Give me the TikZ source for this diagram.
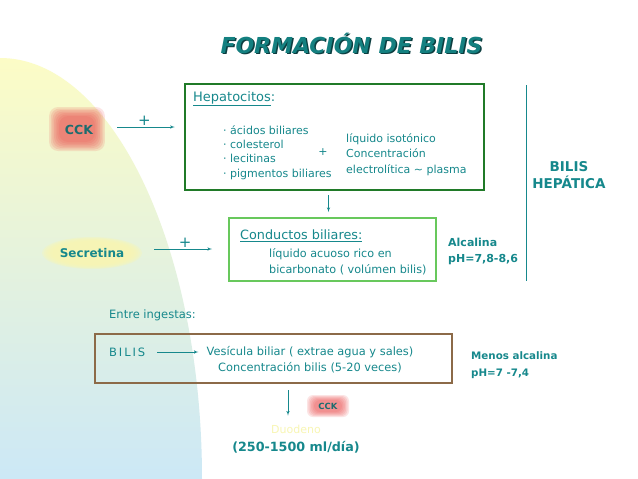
\documentclass[tikz,border=0pt]{standalone}
\usepackage{fontspec}
\setmainfont{DejaVu Sans}
\usetikzlibrary{shapes, arrows}
\usetikzlibrary{positioning}
\usepackage{xcolor}
\definecolor{verdeazul}{RGB}{22,136,140}
\definecolor{tituloosc}{RGB}{12,62,64}
\definecolor{titulocol}{RGB}{20,128,128}
\definecolor{cckcol}{RGB}{28,108,110}
\definecolor{verdeosc}{RGB}{32,122,40}
\definecolor{verdecla}{RGB}{104,200,92}
\definecolor{marron}{RGB}{140,106,72}
\definecolor{fondoarriba}{RGB}{252,252,198}
\definecolor{fondomedio}{RGB}{228,243,216}
\definecolor{fondoabajo}{RGB}{204,232,246}
\definecolor{rojoglow}{RGB}{236,80,80}
\definecolor{amarilloglow}{RGB}{248,246,180}

\begin{document}
\begin{tikzpicture}[x=1pt, y=-1pt, text=verdeazul,
    font=\fontsize{11}{14.3}\selectfont,
    txt/.style={inner sep=1pt, align=left},
    negrita/.style={inner sep=1pt, align=left, font=\fontsize{11}{15.5}\selectfont\bfseries},
    flecha/.style={-latex', verdeazul, semithick},
    caja/.style={draw, minimum width=#1},
    mas/.style={font=\fontsize{15}{15}\selectfont, inner sep=1pt}]

        \useasboundingbox (0,0) rectangle (638,479);
        \fill[white] (0,0) rectangle (638,479);

        % fondo
        \shade[top color=fondoarriba, middle color=fondomedio, bottom color=fondoabajo]
            (0,479) -- (0,58) .. controls (112,58) and (202,247) .. (202,479) -- cycle;

        % titulo
        \node[text=tituloosc, font=\fontsize{22}{22}\selectfont\bfseries\itshape] at (353,44.5) {FORMACIÓN DE BILIS};
        \node[text=titulocol, font=\fontsize{22}{22}\selectfont\bfseries\itshape] (titulo) at (351.5,43) {FORMACIÓN DE BILIS};

        % hormonas
        \foreach \i in {0,...,6}
            \node[fill=rojoglow, fill opacity=0.15, rounded corners=9, minimum width=36+3.3*\i, minimum height=26+3*\i] at (77,129) {};
        \foreach \i in {0,...,5}
            \node[fill=amarilloglow, fill opacity=0.35, ellipse, minimum width=80+4*\i, minimum height=24+1.6*\i] at (92,253) {};
        \foreach \i in {0,...,5}
            \node[fill=rojoglow, fill opacity=0.15, rounded corners=6, minimum width=28+2.8*\i, minimum height=12+2*\i] at (328,406) {};

        \node[negrita, text=cckcol, font=\fontsize{12.5}{14}\selectfont\bfseries, minimum width=52] (cck) at (79,130) {CCK};
        \node[negrita, font=\fontsize{12}{14}\selectfont\bfseries, minimum width=100] (secretina) at (92,253) {Secretina};
        \node[negrita, text=cckcol, font=\fontsize{8.5}{10}\selectfont\bfseries] (cckdos) at (328,406) {CCK};

        % cajas
        \node[caja=299, draw=verdeosc, line width=2.5pt, minimum height=106] (hepato) at (334.5,137) {};
        \node[caja=207, draw=verdecla, line width=2pt, minimum height=63] (conductos) at (332.5,249.5) {};
        \node[caja=357, draw=marron, line width=2pt, minimum height=49] (vesibox) at (273.5,358.5) {};

        \node[txt, anchor=west, font=\fontsize{13}{14}\selectfont] (hepatitulo) at (192,99) {\underline{Hepatocitos}:};
        \node[txt, anchor=west] (lista) at (222,152.5) {· ácidos biliares\\ · colesterol\\ · lecitinas\\ · pigmentos biliares};
        \node[mas, font=\fontsize{11}{11}\selectfont] (masdos) at (323,152) {+};
        \node[txt, anchor=west, font=\fontsize{11}{15.5}\selectfont] (isotonico) at (345,154.5) {líquido isotónico\\ Concentración\\ electrolítica \textasciitilde{} plasma};

        \node[txt, anchor=west, font=\fontsize{12.8}{14}\selectfont] (condtitulo) at (239,236) {\underline{Conductos biliares:}};
        \node[txt, anchor=west, font=\fontsize{11.2}{16}\selectfont] (acuoso) at (268,262) {líquido acuoso rico en\\ bicarbonato ( volúmen bilis)};

        \node[negrita, anchor=west, font=\fontsize{11}{15.5}\selectfont\bfseries] (alcalina) at (447,251.5) {Alcalina\\ pH=7,8-8,6};
        \node[negrita, align=center, font=\fontsize{13.5}{16.5}\selectfont\bfseries] (hepatica) at (569,175) {BILIS\\ HEPÁTICA};
        \draw[verdeazul, thick] (526,85) -- (526,281);

        \node[txt, anchor=west, font=\fontsize{11.5}{14}\selectfont] (ingestas) at (108,315) {Entre ingestas:};
        \node[txt, anchor=west, font=\fontsize{11.5}{14}\selectfont] (bilis) at (108,352) {B\,I\,L\,I\,S};
        \node[txt, align=center, font=\fontsize{11.4}{15.5}\selectfont] (vesicula) at (310,359.5) {Vesícula biliar ( extrae agua y sales)\\ Concentración bilis (5-20 veces)};
        \node[negrita, anchor=west, font=\fontsize{10.3}{17}\selectfont\bfseries] (menos) at (470,365.5) {Menos alcalina\\ pH=7 -7,4};

        \node[txt, text=amarilloglow, font=\fontsize{11}{13}\selectfont] (duodeno) at (296,429) {Duodeno};
        \node[negrita, font=\fontsize{12.7}{14}\selectfont\bfseries] (volumen) at (296,447) {(250-1500 ml/día)};

        % flechas
        \draw[flecha, shorten <=12, shorten >=9] ([yshift=3]cck.east) -- ([yshift=3]cck.east -| hepato.west) node[mas, midway, above] {+};
        \draw[flecha, shorten <=12, shorten >=16] ([yshift=4]secretina.east) -- ([yshift=4]secretina.east -| conductos.west) node[mas, midway, above] {+};
        \draw[flecha, shorten <=4, shorten >=5] ([xshift=-6]hepato.south) -- ([xshift=-6]hepato.south |- conductos.north);
        \draw[flecha, shorten <=11, shorten >=7] (bilis.east) -- (bilis.east -| vesicula.west);
        \draw[flecha, shorten <=6, shorten >=8] ([xshift=-8]duodeno.north |- vesibox.south) -- ([xshift=-8]duodeno.north);

    \end{tikzpicture}
\end{document}
